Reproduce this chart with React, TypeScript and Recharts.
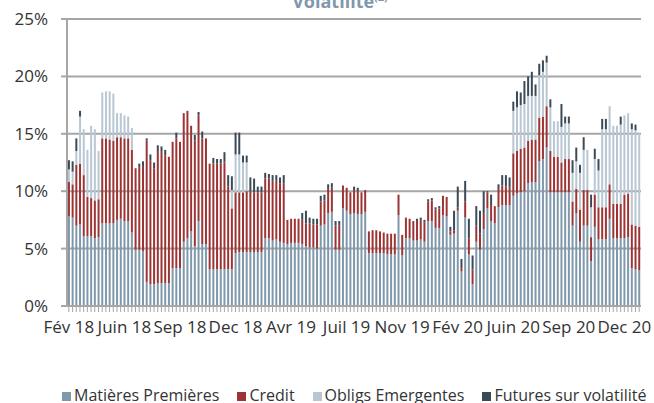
import React from 'react';
import { BarChart, Bar, XAxis, YAxis, CartesianGrid } from 'recharts';

// Weekly observations, Feb 2018 -> Dec 2020 (155 weeks)
const matieresPremieres = [
  7.8, 7.7, 7.0, 7.1, 6.1, 6.1, 6.1, 5.9, 6.0, 7.2, 7.2, 7.2, 7.2, 7.5, 7.6, 7.4, 7.4, 6.4, 4.9, 4.9,
  4.8, 2.1, 1.9, 1.9, 2.0, 2.0, 2.0, 2.0, 3.3, 3.3, 3.3, 5.6, 5.9, 6.5, 5.2, 7.4, 5.4, 5.4, 3.2, 3.2,
  3.2, 3.2, 3.2, 3.2, 3.2, 4.6, 4.7, 4.7, 4.7, 4.7, 4.7, 4.7, 4.7, 5.9, 5.9, 5.7, 5.8, 5.6, 5.5, 5.4,
  5.5, 5.5, 5.5, 5.4, 5.2, 5.1, 5.1, 5.0, 7.0, 7.1, 8.1, 8.2, 4.9, 4.9, 8.5, 8.3, 8.0, 8.1, 8.0, 8.0,
  8.2, 4.6, 4.6, 4.6, 4.6, 4.6, 4.5, 4.5, 4.5, 7.9, 4.4, 5.9, 5.9, 5.7, 5.7, 5.8, 5.6, 7.4, 7.4, 6.8,
  6.8, 7.9, 7.8, 6.2, 6.3, 8.3, 3.0, 7.7, 4.5, 1.9, 5.6, 4.9, 6.7, 8.5, 7.4, 7.2, 8.6, 8.8, 8.8, 8.8,
  9.6, 9.8, 9.9, 10.0, 10.7, 10.8, 10.8, 12.6, 12.8, 13.8, 9.9, 9.9, 9.9, 9.9, 9.9, 9.9, 7.0, 8.1, 5.6, 7.0,
  7.0, 3.9, 6.9, 5.8, 5.8, 5.8, 7.6, 5.9, 5.9, 5.9, 5.9, 6.0, 3.3, 3.2, 3.1,
];

const credit = [
  3.0, 2.9, 5.3, 5.3, 5.3, 3.4, 3.3, 3.3, 3.3, 7.4, 7.4, 7.3, 7.2, 7.2, 7.1, 7.2, 7.2, 7.2, 7.1, 7.2,
  7.4, 12.3, 10.8, 10.1, 11.5, 11.5, 11.1, 11.0, 11.0, 11.3, 11.0, 11.2, 11.1, 9.2, 9.2, 9.2, 9.2, 9.2, 9.2, 9.2,
  9.2, 9.2, 9.3, 7.2, 5.3, 5.3, 5.2, 5.2, 5.3, 5.3, 5.2, 5.2, 5.2, 5.2, 5.2, 5.2, 5.1, 5.1, 5.2, 2.1,
  2.1, 2.1, 2.1, 2.1, 2.0, 2.1, 2.0, 2.1, 2.1, 2.1, 2.1, 2.1, 2.1, 2.1, 2.0, 2.0, 1.9, 2.0, 2.0, 1.9,
  1.9, 1.9, 2.0, 2.0, 1.9, 1.8, 1.8, 1.8, 1.8, 1.8, 1.8, 1.8, 1.7, 1.7, 1.7, 1.7, 1.7, 1.7, 1.8, 1.6,
  1.7, 1.7, 1.7, 0.3, 0.3, 0.3, 0.3, 1.4, 1.4, 1.3, 1.4, 1.4, 1.4, 1.4, 1.4, 1.5, 1.6, 1.7, 1.6, 1.5,
  3.7, 3.7, 3.8, 3.8, 3.7, 3.7, 3.7, 3.8, 3.7, 3.6, 3.6, 3.1, 3.1, 2.6, 2.9, 2.9, 2.1, 2.1, 2.8, 3.1,
  3.1, 2.1, 2.8, 2.8, 2.8, 2.8, 3.0, 3.0, 3.0, 3.0, 3.8, 3.8, 3.8, 3.8, 3.8,
];

const obligsEmergentes = [
  1.1, 1.1, 1.2, 4.1, 4.0, 4.1, 6.3, 6.2, 4.2, 4.0, 4.1, 4.2, 4.1, 2.1, 2.1, 2.0, 1.9, 1.9, 0, 0,
  0, 0, 0, 0, 0, 0, 0, 0, 0, 0, 0, 0, 0, 0, 0, 0, 0, 0, 0, 0,
  0, 0, 0, 0, 1.6, 3.3, 3.3, 2.6, 2.5, 0, 0, 0, 0, 0, 0, 0, 0, 0, 0, 0,
  0, 0, 0, 0, 0, 0, 0, 0, 0, 0, 0, 0, 0, 0, 0, 0, 0, 0, 0, 0,
  0, 0, 0, 0, 0, 0, 0, 0, 0, 0, 0, 0, 0, 0, 0, 0, 0, 0, 0, 0,
  0, 0, 0, 0, 0, 0, 0, 0, 0, 0, 0, 0, 0, 0, 0, 0, 0, 0, 0, 0,
  3.7, 3.8, 3.8, 3.8, 3.9, 3.8, 3.8, 3.7, 3.9, 3.8, 3.8, 3.1, 3.1, 3.1, 3.1, 3.1, 2.5, 2.4, 3.2, 3.5,
  3.5, 2.6, 3.1, 3.2, 6.8, 6.8, 6.8, 6.8, 6.8, 6.9, 6.9, 7.0, 8.3, 8.3, 8.2,
];

const futuresVolatilite = [
  0.8, 0.9, 1.1, 0.5, 0, 0, 0, 0, 0, 0, 0, 0, 0, 0, 0, 0, 0, 0, 0, 0.3,
  0.4, 0.2, 0.5, 0.5, 0.5, 0.4, 0.5, 0, 0, 0.5, 0, 0, 0, 0, 0.5, 0.3, 0.6, 0, 0, 0.5,
  0.4, 0.4, 0.9, 1.0, 1.2, 1.9, 1.9, 0.6, 0.6, 1.2, 1.2, 0.5, 0.5, 0.5, 0.4, 0.5, 0.5, 0.5, 0.7, 0,
  0, 0, 0, 0.6, 1.1, 0.5, 0.5, 0.5, 0.5, 0.5, 0.4, 0.4, 0.4, 0.4, 0, 0, 0, 0.3, 0.3, 0,
  0, 0, 0, 0, 0, 0, 0, 0, 0, 0, 0, 0, 0, 0, 0.2, 0.2, 0.2, 0.2, 0.2, 0.2,
  0.2, 0, 0, 0.4, 1.7, 1.8, 0.8, 1.8, 1.7, 1.2, 1.7, 2.0, 1.9, 0.1, 0.9, 0, 0.4, 0.9, 1.0, 0.9,
  0.8, 1.4, 1.1, 2.0, 1.7, 2.1, 1.0, 1.0, 1.0, 0.6, 0.7, 0, 0, 2.0, 0.6, 0.6, 1.1, 1.2, 0.7, 1.1,
  0, 1.1, 0.9, 1.0, 0.9, 0.9, 0, 0, 0, 0.7, 0, 0, 0.5, 0.5, 0,
];

const tickLabels = [
  'Fév 18', 'Juin 18', 'Sep 18', 'Dec 18', 'Avr 19', 'Juil 19',
  'Nov 19', 'Fév 20', 'Juin 20', 'Sep 20', 'Dec 20',
];
const LABEL_EVERY = 15;

const seriesNames = ['Matières Premières', 'Credit', 'Obligs Emergentes', 'Futures sur volatilité'];
const seriesKeys = ['mp', 'credit', 'em', 'vol'];
const seriesColors = ['#7f98ab', '#9c3434', '#b8c7d2', '#3b4a57'];

const categories = matieresPremieres.map((_, i) => `S${i + 1}`);

const data = categories.map((c, i) => ({
  week: c,
  mp: matieresPremieres[i],
  credit: credit[i],
  em: obligsEmergentes[i],
  vol: futuresVolatilite[i],
}));

const FONT = '"Open Sans", "Noto Sans", sans-serif';
const GRID = '#a6a6a6';
const TEXT = '#333333';

export default function App() {
  return (
    <div
      style={{
        position: 'absolute',
        left: 0,
        top: 0,
        width: 654,
        height: 403,
        overflow: 'hidden',
        background: '#ffffff',
        fontFamily: FONT,
      }}
    >
      <div
        style={{
          position: 'absolute',
          top: -11,
          left: 0,
          width: 680,
          textAlign: 'center',
          fontSize: 18,
          fontWeight: 700,
          color: '#7f98ad',
          whiteSpace: 'nowrap',
        }}
      >
        Volatilité<sup style={{ fontSize: 11 }}>(2)</sup>
      </div>
      <BarChart
        width={654}
        height={403}
        data={data}
        margin={{ top: 19, right: 13, bottom: 67, left: 0 }}
        barCategoryGap="25%"
      >
        <CartesianGrid vertical={false} stroke={GRID} strokeWidth={2} />
        <XAxis
          dataKey="week"
          interval={0}
          height={30}
          tickSize={6}
          tickMargin={9}
          axisLine={{ stroke: GRID, strokeWidth: 2 }}
          tickLine={{ stroke: GRID, strokeWidth: 1 }}
          tick={{ fontSize: 17, fill: TEXT, fontFamily: FONT }}
          tickFormatter={(_v: any, i: number) =>
            i % LABEL_EVERY === 0 ? tickLabels[i / LABEL_EVERY] ?? '' : ''
          }
        />
        <YAxis
          width={67}
          domain={[0, 25]}
          ticks={[0, 5, 10, 15, 20, 25]}
          tickSize={6}
          tickMargin={13}
          axisLine={{ stroke: GRID, strokeWidth: 2 }}
          tickLine={{ stroke: GRID, strokeWidth: 2 }}
          tick={{ fontSize: 17, fill: TEXT, fontFamily: FONT }}
          tickFormatter={(v: number) => `${v}%`}
        />
        {seriesKeys.map((k, idx) => (
          <Bar
            key={k}
            dataKey={k}
            name={seriesNames[idx]}
            stackId="a"
            fill={seriesColors[idx]}
            isAnimationActive={false}
          />
        ))}
      </BarChart>
      <div
        style={{
          position: 'absolute',
          top: 384,
          left: 62,
          whiteSpace: 'nowrap',
          fontSize: 16,
          color: TEXT,
          display: 'flex',
          alignItems: 'baseline',
        }}
      >
        {seriesNames.map((n, idx) => (
          <span key={n} style={{ marginRight: 18, display: 'inline-flex', alignItems: 'baseline' }}>
            <span
              style={{
                display: 'inline-block',
                width: 9,
                height: 9,
                background: seriesColors[idx],
                marginRight: 3,
              }}
            />
            {n}
          </span>
        ))}
      </div>
    </div>
  );
}
